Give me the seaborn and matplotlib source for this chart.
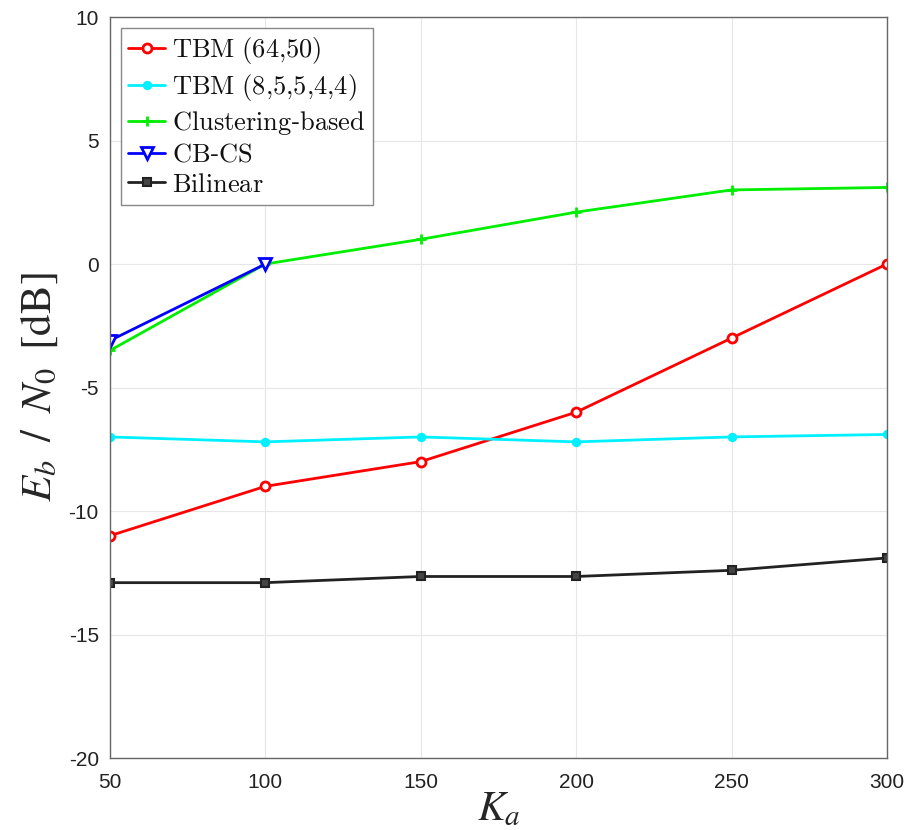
import matplotlib
matplotlib.use("Agg")
import matplotlib.pyplot as plt
import seaborn as sns
import numpy as np

sns.set_style("white")
plt.rcParams['font.family'] = ['Liberation Sans', 'DejaVu Sans']

ka = [50, 100, 150, 200, 250, 300]
tbm_64_50 = [-11.0, -9.0, -8.0, -6.0, -3.0, 0.0]
tbm_85544 = [-7.0, -7.2, -7.0, -7.2, -7.0, -6.9]
clustering = [-3.5, 0.0, 1.0, 2.1, 3.0, 3.1]
cbcs_ka = [50, 100]
cbcs = [-3.1, 0.0]
bilinear = [-12.9, -12.9, -12.65, -12.65, -12.4, -11.9]

fig = plt.figure(figsize=(9.05, 8.3), dpi=100)
ax = fig.add_axes([0.1215, 0.0867, 0.8585, 0.8928])

lw = 2.0
sns.lineplot(x=ka, y=tbm_64_50, ax=ax, color='#ff0000', lw=lw, marker='o', markersize=6.5,
             markerfacecolor='white', markeredgecolor='#ff0000', markeredgewidth=2,
             label=r'$\mathrm{TBM\ (64{,}50)}$')
sns.lineplot(x=ka, y=tbm_85544, ax=ax, color='#00f0ff', lw=lw, marker='o', markersize=6,
             markerfacecolor='#00f0ff', markeredgecolor='#00f0ff',
             label=r'$\mathrm{TBM\ (8{,}5{,}5{,}4{,}4)}$')
sns.lineplot(x=ka, y=clustering, ax=ax, color='#00ee00', lw=lw, marker='+', markersize=7,
             markeredgewidth=2, markeredgecolor='#00ee00',
             label=r'$\mathrm{Clustering}$-$\mathrm{based}$')
sns.lineplot(x=cbcs_ka, y=cbcs, ax=ax, color='#0000ff', lw=lw, marker='v', markersize=8,
             markerfacecolor='white', markeredgecolor='#0000ff', markeredgewidth=2,
             label=r'$\mathrm{CB}$-$\mathrm{CS}$')
sns.lineplot(x=ka, y=bilinear, ax=ax, color='#222222', lw=lw, marker='s', markersize=6,
             markerfacecolor='#444444', markeredgecolor='#222222', markeredgewidth=1.5,
             label=r'$\mathrm{Bilinear}$')

ax.set_xlim(50, 300)
ax.set_ylim(-20, 10)
ax.set_xticks([50, 100, 150, 200, 250, 300])
ax.set_yticks([-20, -15, -10, -5, 0, 5, 10])
ax.set_yticklabels(['-20', '-15', '-10', '-5', '0', '5', '10'])
ax.grid(True, color='#e6e6e6', lw=0.8)
ax.set_axisbelow(True)
ax.tick_params(direction='in', length=6, color='#555555', labelsize=15, labelcolor='#222222')
ax.tick_params(axis='x', pad=11)
ax.tick_params(axis='y', pad=8)
for s in ax.spines.values():
    s.set_color('#666666')
    s.set_linewidth(1.0)

xl = ax.set_xlabel(r'$K_a$', fontsize=30, labelpad=-2)
xl.set_math_fontfamily('stix')
yl = ax.set_ylabel(r'$E_b\;\;/\;\;N_0\;\;\mathrm{[dB]}$', fontsize=31, labelpad=6)
yl.set_math_fontfamily('stix')

leg = ax.legend(loc='upper left', bbox_to_anchor=(0.0, 1.0), fontsize=19, handlelength=1.4,
                handletextpad=0.25, labelspacing=0.22, borderpad=0.3, borderaxespad=0.4,
                frameon=True, fancybox=False, edgecolor='#888888', framealpha=1)
for t in leg.get_texts():
    t.set_math_fontfamily('cm')
    t.set_color('#111111')

fig.savefig('out.png', dpi=100)
